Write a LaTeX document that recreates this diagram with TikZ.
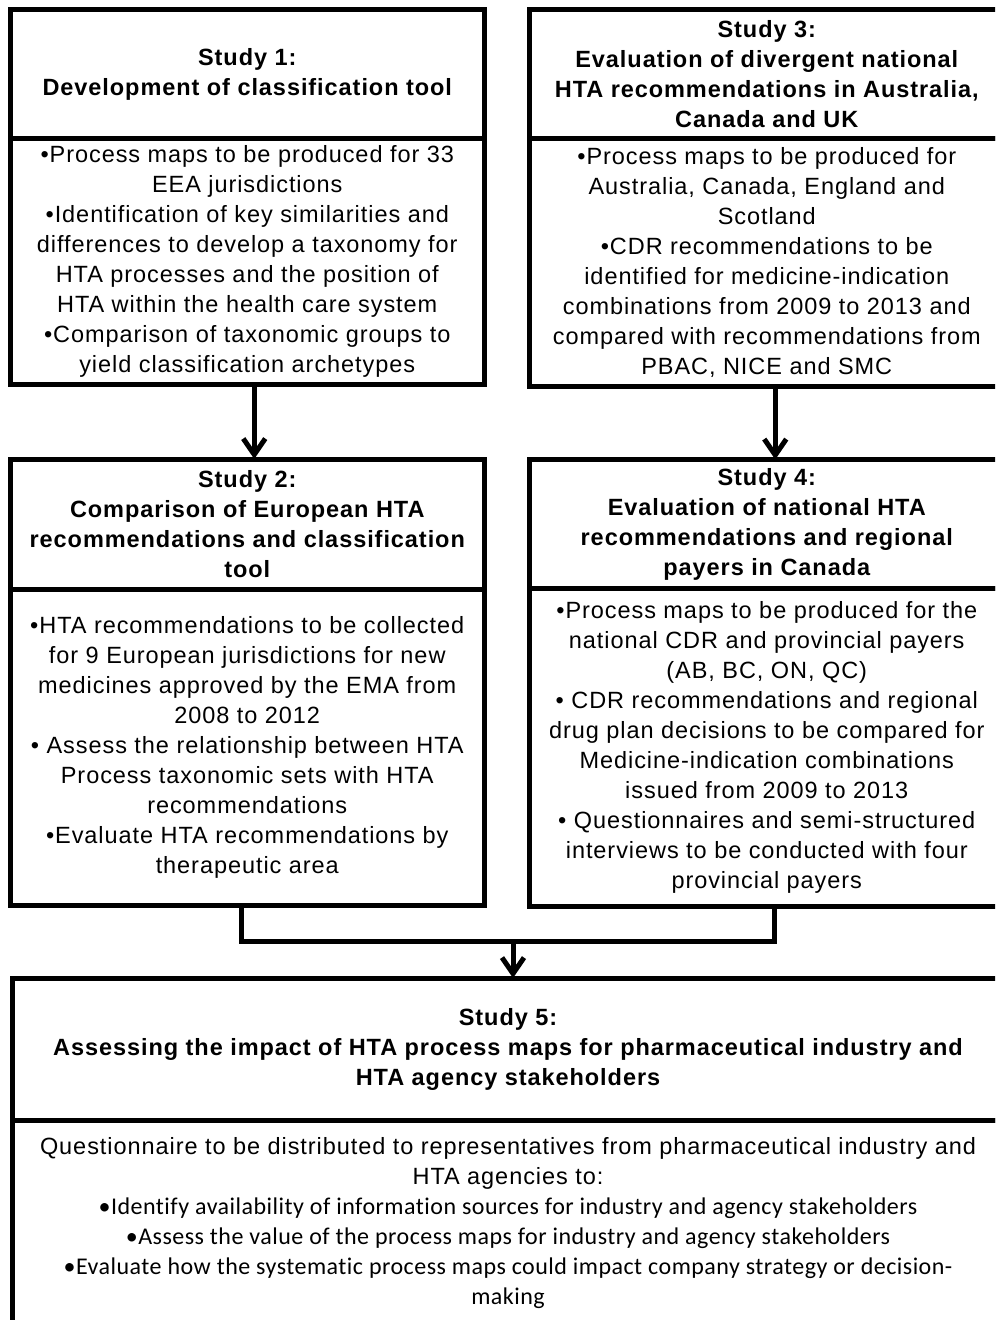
\documentclass[tikz,border=0pt]{standalone}
\usepackage{fontspec}
\setmainfont{Liberation Sans}[LetterSpace=4]
\newfontfamily\calibri{Carlito}[LetterSpace=2, Ligatures={NoCommon,NoRequired,NoContextual}]
\usetikzlibrary{positioning,arrows.meta}

\tikzset{
  box/.style={draw, line width=5bp, outer sep=0pt, inner sep=0pt, align=center,
    minimum width=474.5bp, font=\fontsize{23.5bp}{30bp}\selectfont},
  head/.style={box, minimum height=129bp, font=\bfseries\fontsize{23.5bp}{30bp}\selectfont},
  body/.style={box},
  line/.style={line width=5bp},
  arr/.style={line, -{Straight Barb[length=16bp,width=22bp]}}
}

\begin{document}
\begin{tikzpicture}[x=1bp, y=-1bp]
  \useasboundingbox (0,0) rectangle (995,1320);
  \clip (0,0) rectangle (995,1320);

  % top row
  \node (h1) [head, anchor=north west] at (10,10) {Study 1:\\Development of classification tool};
  \node (b1) [body, minimum height=245bp, below=0pt of h1] {%
    •Process maps to be produced for 33\\EEA jurisdictions\\
    •Identification of key similarities and\\differences to develop a taxonomy for\\
    HTA processes and the position of\\HTA within the health care system\\
    •Comparison of taxonomic groups to\\yield classification archetypes};
  \node (h3) [head, right=45bp of h1] {Study 3:\\Evaluation of divergent national\\
    HTA recommendations in Australia,\\Canada and UK};
  \node (b3) [body, minimum height=247bp, below=0pt of h3] {%
    •Process maps to be produced for\\Australia, Canada, England and\\Scotland\\
    •CDR recommendations to be\\identified for medicine-indication\\
    combinations from 2009 to 2013 and\\compared with recommendations from\\
    PBAC, NICE and SMC};

  % middle row
  \node (h2) [head, minimum height=130bp, below=75bp of b1] {Study 2:\\Comparison of European HTA\\
    recommendations and classification\\tool};
  \node (b2) [body, minimum height=316.5bp, below=0pt of h2] {%
    •HTA recommendations to be collected\\for 9 European jurisdictions for new\\
    medicines approved by the EMA from\\2008 to 2012\\
    • Assess the relationship between HTA\\Process taxonomic sets with HTA\\
    recommendations\\
    •Evaluate HTA recommendations by\\therapeutic area};
  \node (h4) [head, right=45bp of h2] {Study 4:\\Evaluation of national HTA\\
    recommendations and regional\\payers in Canada};
  \node (b4) [body, minimum height=317.5bp, below=0pt of h4] {%
    •Process maps to be produced for the\\national CDR and provincial payers\\
    (AB, BC, ON, QC)\\
    • CDR recommendations and regional\\drug plan decisions to be compared for\\
    Medicine-indication combinations\\issued from 2009 to 2013\\
    • Questionnaires and semi-structured\\interviews to be conducted with four\\
    provincial payers};

  % bottom box
  \node (h5) [head, minimum width=992bp, minimum height=142bp, anchor=north west]
    at ([xshift=2bp, yshift=-72.5bp]b2.south west) {Study 5:\\
    Assessing the impact of HTA process maps for pharmaceutical industry and\\
    HTA agency stakeholders};
  \node (b5) [body, minimum width=992bp, minimum height=207bp, below=0pt of h5] {%
    Questionnaire to be distributed to representatives from pharmaceutical industry and\\
    HTA agencies to:\\
    {\calibri\fontsize{24bp}{30bp}\selectfont •Identify availability of information sources for industry and agency stakeholders}\\
    {\calibri\fontsize{24bp}{30bp}\selectfont •Assess the value of the process maps for industry and agency stakeholders}\\
    {\calibri\fontsize{24bp}{30bp}\selectfont •Evaluate how the systematic process maps could impact company strategy or decision-}\\
    {\calibri\fontsize{24bp}{30bp}\selectfont making}};

  \coordinate (j) at ([xshift=5bp, yshift=37bp]h5.north);

  \draw [arr] ([xshift=7bp]b1.south) -- ([xshift=7bp]h2.north);
  \draw [arr] ([xshift=8.5bp]b3.south) -- ([xshift=8.5bp]h4.north);
  \draw [line] ([xshift=-6bp]b2.south) |- (j) -| ([xshift=8bp]b4.south);
  \draw [arr] (j) -- ([xshift=5bp]h5.north);
\end{tikzpicture}
\end{document}
